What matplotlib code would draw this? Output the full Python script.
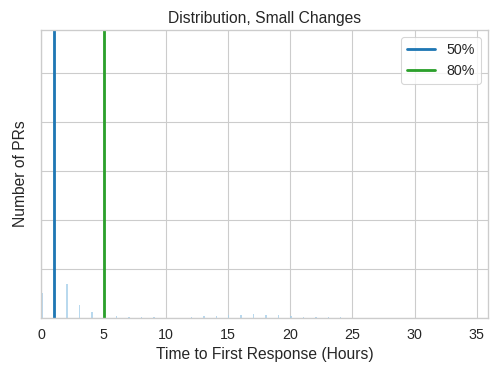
import numpy as np
import matplotlib
matplotlib.use("Agg")
import matplotlib.pyplot as plt
import seaborn as sns


# ======================
# data
# ======================
hours = [0, 1, 2, 3, 4, 5, 6, 7, 8, 9, 12, 13, 14, 15, 16, 17, 18,
         19, 20, 21, 22, 23, 24, 26, 27]
counts = [1020, 11180, 1390, 530, 245, 150, 80, 60, 40, 40, 40, 80, 80,
          120, 140, 160, 140, 120, 80, 40, 60, 40, 40, 20, 20]

p50 = 1.0
p80 = 5.0
percentile_labels = ["50%", "80%"]


# ======================
# style
# ======================
sns.set_theme(style="whitegrid", context="notebook", font_scale=1.2)
plt.rcParams["font.family"] = ["Liberation Sans", "DejaVu Sans"]


# ======================
# plot
# ======================
fig = plt.figure(figsize=(498 / 78, 375 / 78), dpi=78)
ax = fig.add_axes([0.083, 0.152, 0.897, 0.768])

ax.bar(hours, counts, width=0.12, align="edge", color="#a8d0ea",
       alpha=0.8, linewidth=0)

ax.axvline(p50, color="#1f77b4", linewidth=2.6, label=percentile_labels[0])
ax.axvline(p80, color="#2ca02c", linewidth=2.6, label=percentile_labels[1])

ax.set_xlim(0, 35.9)
ax.set_ylim(0, max(counts) * 1.05)
ax.set_xticks(np.arange(0, 36, 5))
ax.set_yticks(np.arange(0, 12000, 2000))
ax.set_yticklabels([])

ax.set_title("Distribution, Small Changes", pad=6)
ax.set_xlabel("Time to First Response (Hours)")
ax.set_ylabel("Number of PRs", labelpad=2.5)
ax.legend(loc="upper right")

fig.savefig("out.png", dpi=78)
plt.close(fig)
